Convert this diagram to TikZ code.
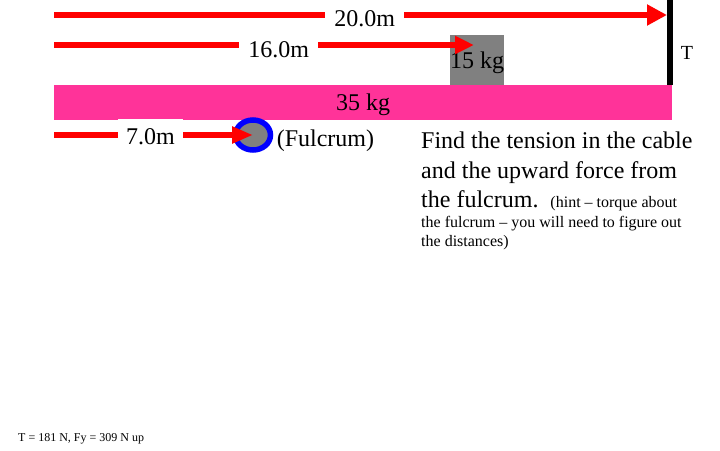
\documentclass[tikz,border=0pt]{standalone}
\usepackage{fontspec}
\setmainfont{Liberation Serif}
\usetikzlibrary{arrows.meta}
\usetikzlibrary{positioning}
\usetikzlibrary{shapes.geometric}

\definecolor{beampink}{RGB}{255,51,153}
\definecolor{loadgray}{RGB}{128,128,128}

\begin{document}
\begin{tikzpicture}[x=1pt, y=-1pt, font=\fontsize{24}{29.5}\selectfont]
  \tikzstyle{dist}=[draw=red, line width=6.5pt]
  \tikzstyle{len}=[fill=white, inner xsep=9pt, inner ysep=0pt, minimum height=24pt]
  \tikzstyle{beam}=[rectangle, fill=beampink, minimum width=618pt, minimum height=35pt, inner sep=0pt, text depth=0pt]
  \tikzstyle{load}=[rectangle, fill=loadgray, minimum width=54pt, minimum height=50pt, inner sep=0pt, text depth=0pt]
  \tikzstyle{pivot}=[ellipse, draw=blue, line width=5.5pt, fill=loadgray, minimum width=35pt, minimum height=30pt, inner sep=0pt]
  \useasboundingbox (0,0) rectangle (720,450);
  \node [beam] at (363,102.5) (beam) {35 kg};
  \node [load] at (477,60) (load) {15 kg};
  \coordinate (ctop) at (670,0);
  \coordinate (cbot) at (670,85);
  \draw [line width=6pt] (ctop) -- (cbot);
  \node [font=\fontsize{20}{24}\selectfont] at (687,53) (tlbl) {T};
  \node [pivot] at (253,135) (fulcrum) {};
  \node [right=0pt of fulcrum, yshift=-6pt] (fulcrumlbl) {(Fulcrum)};
  \coordinate (s20) at (54,15);
  \coordinate (e20) at (667,15);
  \coordinate (s16) at (54,45);
  \coordinate (e16) at (474,45);
  \coordinate (s7) at (54,135);
  \draw [dist, -{Triangle[length=20pt,width=20pt]}] (s20) -- node [len, pos=0.507, yshift=-4pt] {20.0m} (e20);
  \draw [dist, -{Triangle[length=19pt,width=17pt]}] (s16) -- node [len, pos=0.535, yshift=-4.5pt] {16.0m} (e16);
  \draw [dist, -{Triangle[length=21pt,width=16pt]}] (s7) -- node [len, pos=0.485, inner xsep=8pt, minimum height=36pt, yshift=-1.5pt] {7.0m} (fulcrum.center);
  \node [anchor=north west, text width=295pt, align=flush left, inner sep=0pt] at (421,132) (task)
    {Find the tension in the cable\\
     and the upward force from\\
     the fulcrum.\hspace{12pt}{\fontsize{16}{20}\selectfont (hint -- torque about}\\[-10pt]
     {\fontsize{16}{20}\selectfont the fulcrum -- you will need to figure out}\\[-10pt]
     {\fontsize{16}{20}\selectfont the distances)}};
  \node [anchor=base west, inner sep=0pt, font=\fontsize{12}{14}\selectfont] at (18,441) (answer) {T = 181 N, Fy = 309 N up};
\end{tikzpicture}
\end{document}
